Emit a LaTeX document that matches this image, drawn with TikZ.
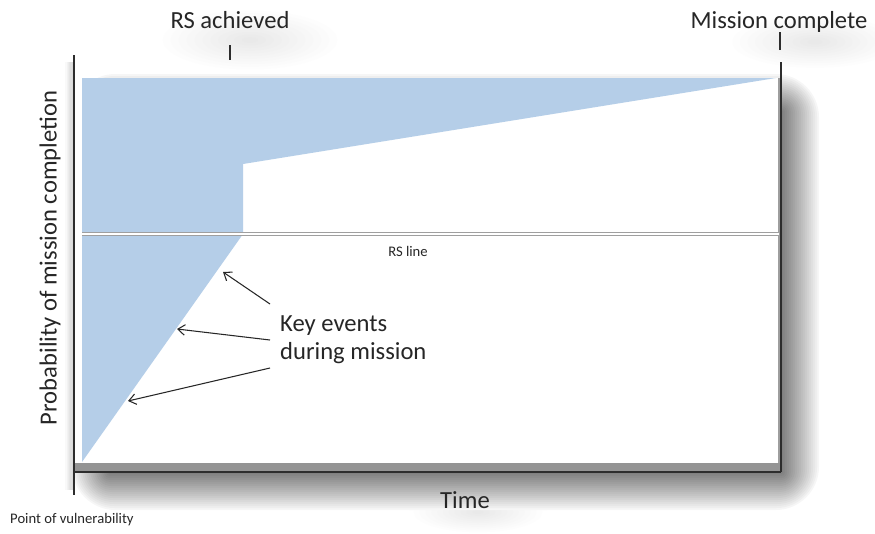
\documentclass[tikz,border=0pt]{standalone}
\usepackage{fontspec}
\setmainfont{Carlito}
\usetikzlibrary{positioning,calc,arrows.meta}

\definecolor{rsblue}{RGB}{181,206,232}
\definecolor{axisgray}{RGB}{45,45,45}

\begin{document}
\begin{tikzpicture}[
    x=0.3mm, y=-0.3mm,
    lbl/.style={font=\fontsize{21}{24}\selectfont, text=black!85, inner sep=0pt},
    small/.style={font=\fontsize{12.5}{14}\selectfont, text=black!85, inner sep=0pt},
    axisline/.style={draw=axisgray, line width=1.3pt},
    tickline/.style={draw=axisgray, line width=0.9pt},
    rsdouble/.style={draw=gray!75, double=white, double distance=2.1pt, line width=0.5pt},
    evarrow/.style={-{Straight Barb[length=6pt, width=9pt]}, draw=black!85, line width=0.9pt}
]
    \useasboundingbox (0,0) rectangle (875,533);

    % soft glows behind the labels
    \foreach \i in {0,...,11} {
        \pgfmathsetmacro{\g}{0.8*\i}
        \pgfmathsetmacro{\s}{1-\i/12}
        \fill[black!\g] (250,40) ellipse ({95*\s} and {32*\s});
        \fill[black!\g] (815,42) ellipse ({90*\s} and {28*\s});
        \fill[black!\g] (478,512) ellipse ({70*\s} and {22*\s});
    }

    % drop shadow of the frame
    \foreach \i in {18,...,0} {
        \pgfmathsetmacro{\g}{50*(1-\i/19)^0.9}
        \fill[black!\g, rounded corners={2*\i+1}] (108-2*\i,110-2*\i) rectangle (783+2*\i,474+2*\i);
    }
    \foreach \i in {0,...,7} {
        \pgfmathsetmacro{\g}{2.5*\i}
        \fill[black!\g] (64+1.25*\i,62) rectangle (65.25+1.25*\i,490);
    }

    % plot area
    \fill[white] (74,78) rectangle (778,463);
    \fill[black!42] (74,463) rectangle (781,472);
    \fill[black!38] (778,78) rectangle (781,463);
    \fill[rsblue] (82,78) -- (776,78) -- (243,164) -- (243,234) -- (82,462) -- cycle;
    \draw[rsdouble] (82,234) -- (779,234);

    % axes and ticks
    \draw[axisline] (74,55) -- (74,495);
    \draw[axisline] (74,472) -- (781,472);
    \draw[axisline] (781,62) -- (781,472);
    \draw[tickline] (230,45) -- (230,60);
    \draw[tickline] (780,32) -- (780,50);

    \node[lbl] (rsach) at (230,20) {RS achieved};
    \node[lbl] (misscomp) at (779,22) {Mission complete};
    \node[lbl, rotate=90] (prob) at (50,258) {Probability of mission completion};
    \node[lbl] (time) at (465,500) {Time};
    \node[small, anchor=west] (vuln) at (10,520) {Point of vulnerability};
    \node[small] (rsline) at (408,251) {RS line};
    \node[lbl, align=left, anchor=west] (keyev) at (280,340) {Key events\\during mission};

    \coordinate (k1) at (270,304);
    \coordinate (k2) at (270,340);
    \coordinate (k3) at (270,368);
    \coordinate (ev1) at (223,272);
    \coordinate (ev2) at (177,329);
    \coordinate (ev3) at (128,401);

    \draw[evarrow] (k1) -- (ev1);
    \draw[evarrow] (k2) -- (ev2);
    \draw[evarrow] (k3) -- (ev3);
\end{tikzpicture}
\end{document}
